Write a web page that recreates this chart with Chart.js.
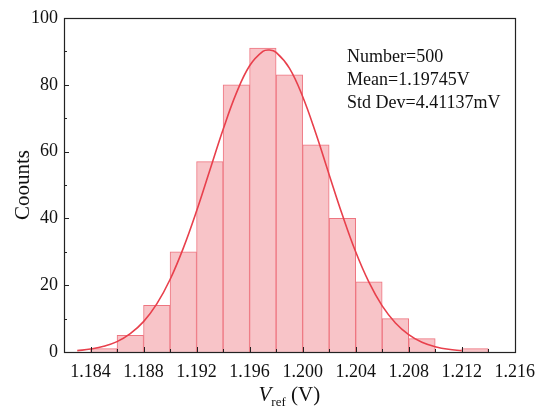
<!DOCTYPE html>
<html>
<head>
<meta charset="utf-8">
<script src="https://cdn.jsdelivr.net/npm/chart.js@4.4.1/dist/chart.umd.min.js"></script>
<style>
  html, body { margin: 0; padding: 0; background: #fff; }
  #wrap { width: 544px; height: 407px; }
</style>
</head>
<body>
<div id="wrap"><canvas id="chart" width="544" height="407"></canvas></div>
<script>
// histogram bins (centre of each 2 mV bin) and counts
const binCenters = [1.185, 1.187, 1.189, 1.191, 1.193, 1.195, 1.197, 1.199, 1.201, 1.203, 1.205, 1.207, 1.209, 1.211, 1.213];
const counts = [1, 5, 14, 30, 57, 80, 91, 83, 62, 40, 21, 10, 4, 0, 1];

// normal fit curve
const fitX = [1.183, 1.184, 1.185, 1.186, 1.187, 1.188, 1.189, 1.190, 1.191, 1.192, 1.193, 1.194, 1.195, 1.196, 1.197, 1.1975,
              1.198, 1.199, 1.200, 1.201, 1.202, 1.203, 1.204, 1.205, 1.206, 1.207, 1.208, 1.209, 1.210, 1.211, 1.212];
const fitY = [0.4, 0.9, 1.7, 3.1, 5.5, 9.1, 14.4, 21.7, 31.1, 42.2, 54.4, 66.6, 77.5, 85.7, 90.0, 90.4,
              89.7, 85.0, 76.5, 65.4, 53.1, 41.0, 30.0, 20.9, 13.8, 8.7, 5.2, 2.9, 1.6, 0.8, 0.4];

const xTicks = [1.184, 1.188, 1.192, 1.196, 1.200, 1.204, 1.208, 1.212, 1.216];
const xMinor = [1.182, 1.186, 1.190, 1.194, 1.198, 1.202, 1.206, 1.210, 1.214];
const yTicks = [0, 20, 40, 60, 80, 100];
const yMinor = [10, 30, 50, 70, 90];

const statLines = ["Number=500", "Mean=1.19745V", "Std Dev=4.41137mV"];

const serif = "'Liberation Serif', 'Times New Roman', serif";

const frame = {
    id: "frame",
    afterDatasetsDraw(chart) {
        const ctx = chart.ctx;
        const a = chart.chartArea;
        const xs = chart.scales.x, ys = chart.scales.y;
        ctx.save();
        ctx.strokeStyle = "#222";
        ctx.lineWidth = 1.2;
        ctx.strokeRect(Math.round(a.left) + 0.5, Math.round(a.top) + 0.5,
                       Math.round(a.right - a.left), Math.round(a.bottom - a.top));

        // inward ticks
        ctx.lineWidth = 1;
        ctx.beginPath();
        xTicks.forEach(v => {
            const px = Math.round(xs.getPixelForValue(v)) + 0.5;
            ctx.moveTo(px, a.bottom); ctx.lineTo(px, a.bottom - 5);
        });
        xMinor.forEach(v => {
            const px = Math.round(xs.getPixelForValue(v)) + 0.5;
            ctx.moveTo(px, a.bottom); ctx.lineTo(px, a.bottom - 3);
        });
        yTicks.forEach(v => {
            const py = Math.round(ys.getPixelForValue(v)) + 0.5;
            ctx.moveTo(a.left, py); ctx.lineTo(a.left + 5, py);
        });
        yMinor.forEach(v => {
            const py = Math.round(ys.getPixelForValue(v)) + 0.5;
            ctx.moveTo(a.left, py); ctx.lineTo(a.left + 3, py);
        });
        ctx.stroke();

        // stats box text
        ctx.fillStyle = "#111";
        ctx.font = "18px " + serif;
        ctx.textAlign = "left";
        ctx.textBaseline = "alphabetic";
        statLines.forEach((t, i) => ctx.fillText(t, 347, 62 + i * 23));

        // y title
        ctx.save();
        ctx.translate(29, (a.top + a.bottom) / 2);
        ctx.rotate(-Math.PI / 2);
        ctx.font = "21px " + serif;
        ctx.textAlign = "center";
        ctx.fillText("Coounts", 0, 0);
        ctx.restore();

        // x title: V_ref (V)
        const base = 401;
        ctx.font = "italic 21px " + serif;
        const wV = ctx.measureText("V").width;
        ctx.font = "13px " + serif;
        const wSub = ctx.measureText("ref").width;
        ctx.font = "21px " + serif;
        const wRest = ctx.measureText(" (V)").width;
        let x0 = (a.left + a.right) / 2 - (wV + wSub + wRest) / 2;
        ctx.font = "italic 21px " + serif;
        ctx.fillText("V", x0, base);
        ctx.font = "13px " + serif;
        ctx.fillText("ref", x0 + wV, base + 5);
        ctx.font = "21px " + serif;
        ctx.fillText(" (V)", x0 + wV + wSub, base);
        ctx.restore();
    }
};

new Chart(document.getElementById("chart"), {
    data: {
        datasets: [
            {
                type: "line",
                data: fitX.map((x, i) => ({ x: x, y: fitY[i] })),
                borderColor: "#e8404c",
                borderWidth: 1.6,
                pointRadius: 0,
                tension: 0.4,
                fill: false,
                order: 0
            },
            {
                type: "bar",
                data: binCenters.map((x, i) => ({ x: x, y: counts[i] })),
                backgroundColor: "rgba(248, 196, 200, 1)",
                borderColor: "#ee7580",
                borderWidth: 1,
                barPercentage: 1,
                categoryPercentage: 1,
                order: 1
            }
        ]
    },
    options: {
        responsive: false,
        animation: false,
        layout: { padding: { top: 18, right: 29, left: 0, bottom: 0 } },
        plugins: { legend: { display: false }, tooltip: { enabled: false } },
        scales: {
            x: {
                type: "linear",
                min: 1.182,
                max: 1.216,
                offset: false,
                grid: { display: false, drawTicks: false, offset: false },
                border: { display: false },
                afterBuildTicks: s => { s.ticks = xTicks.map(v => ({ value: v })); },
                afterFit: s => { s.height = 55; },
                ticks: {
                    padding: 9,
                    color: "#111",
                    maxRotation: 0,
                    autoSkip: false,
                    font: { family: serif, size: 18 },
                    callback: v => v.toFixed(3)
                }
            },
            y: {
                min: 0,
                max: 100,
                grid: { display: false, drawTicks: false },
                border: { display: false },
                afterBuildTicks: s => { s.ticks = yTicks.map(v => ({ value: v })); },
                afterFit: s => { s.width = 64; },
                ticks: {
                    padding: 6,
                    color: "#111",
                    font: { family: serif, size: 18 }
                }
            }
        }
    },
    plugins: [frame]
});
</script>
</body>
</html>
